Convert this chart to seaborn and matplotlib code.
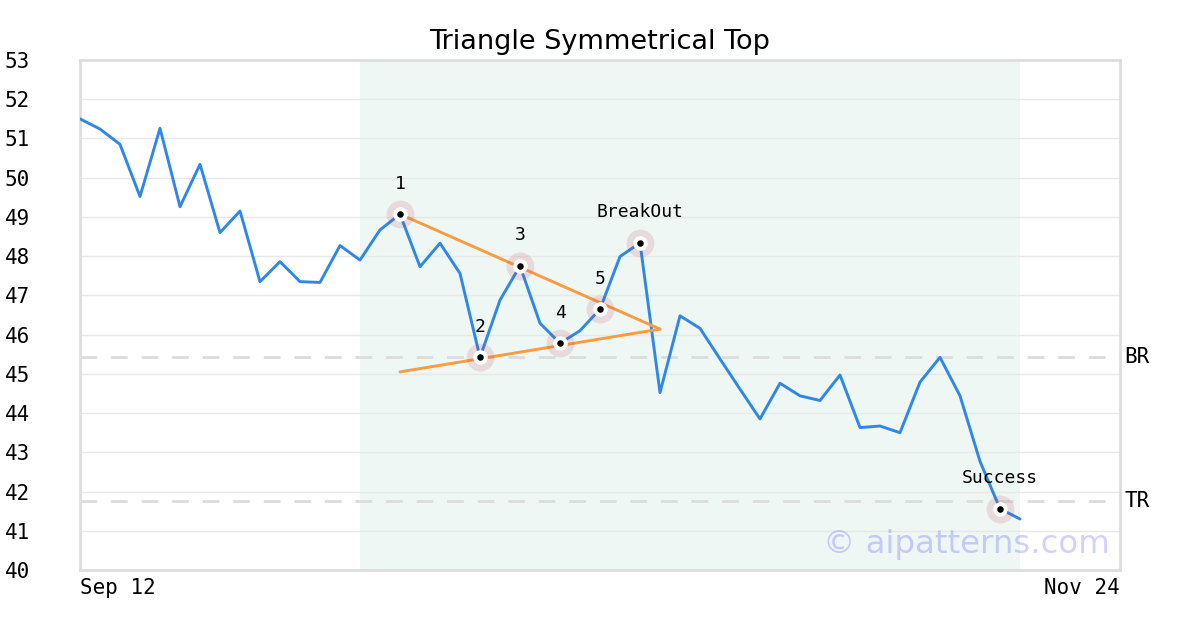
import matplotlib
matplotlib.use("Agg")
import matplotlib.pyplot as plt
import pandas as pd
import seaborn as sns

# price series, one value per trading day starting Sep 12
prices = [51.50, 51.24, 50.85, 49.52, 51.26, 49.26, 50.34, 48.60, 49.15, 47.35,
          47.86, 47.35, 47.33, 48.27, 47.90, 48.67, 49.07, 47.73, 48.33, 47.56,
          45.42, 46.88, 47.75, 46.29, 45.78, 46.10, 46.65, 47.99, 48.34, 44.52,
          46.48, 46.16, 45.38, 44.61, 43.85, 44.76, 44.44, 44.32, 44.97, 43.63,
          43.67, 43.50, 44.79, 45.42, 44.44, 42.77, 41.56, 41.30]
n_days = 52  # axis spans Sep 12 .. Nov 24
x_labels = ["Sep 12", "Nov 24"]

# pattern points (index into prices) and their labels
pivot_idx = [16, 20, 22, 24, 26, 28, 46]
pivot_lbl = ["1", "2", "3", "4", "5", "BreakOut", "Success"]

# triangle sides
upper_x = [16, 29]
upper_y = [49.07, 46.14]
lower_x = [16, 29]
lower_y = [45.05, 46.14]

br_level = 45.43
tr_level = 41.76
shade_from, shade_to = 14, 47

df = pd.DataFrame({"day": range(len(prices)), "price": prices})
piv = pd.DataFrame({"day": pivot_idx, "price": [prices[i] for i in pivot_idx], "label": pivot_lbl})

sns.set_style("white")
plt.rcParams["font.family"] = ["DejaVu Sans"]
plt.rcParams["text.color"] = "black"
plt.rcParams["xtick.color"] = "black"
plt.rcParams["ytick.color"] = "black"
mono = "DejaVu Sans Mono"

fig = plt.figure(figsize=(12, 6.3), dpi=100)
ax = fig.add_axes([80 / 1200, 60 / 630, 1040 / 1200, 510 / 630])

ax.axvspan(shade_from, shade_to, color="#eef7f3", zorder=0, lw=0)
for v in range(41, 53):
    ax.axhline(v, color="#e8e8e8", lw=1, zorder=1)
ax.axhline(br_level, color="#dcdcdc", lw=2, ls=(0, (6, 5)), zorder=1)
ax.axhline(tr_level, color="#dcdcdc", lw=2, ls=(0, (6, 5)), zorder=1)

sns.lineplot(data=df, x="day", y="price", ax=ax, color="#2f87e6", lw=2.1, zorder=3)
sns.lineplot(x=upper_x, y=upper_y, ax=ax, color="#fb9c40", lw=2.1, zorder=4)
sns.lineplot(x=lower_x, y=lower_y, ax=ax, color="#fb9c40", lw=2.1, zorder=4)

sns.scatterplot(data=piv, x="day", y="price", ax=ax, s=400, color="#c03050", alpha=0.14,
                linewidth=0, zorder=5)
sns.scatterplot(data=piv, x="day", y="price", ax=ax, s=110, color="white", linewidth=0, zorder=6)
sns.scatterplot(data=piv, x="day", y="price", ax=ax, s=22, color="black", linewidth=0, zorder=7)

for _, r in piv.iterrows():
    ax.annotate(r["label"], (r["day"], r["price"]), xytext=(0, 22), textcoords="offset points",
                ha="center", va="center", fontsize=13, family=mono, zorder=8)

ax.text(1.004, br_level, "BR", transform=ax.get_yaxis_transform(), ha="left", va="center",
        fontsize=15, family=mono)
ax.text(1.004, tr_level, "TR", transform=ax.get_yaxis_transform(), ha="left", va="center",
        fontsize=15, family=mono)

ax.text(0.99, 0.05, "\u00a9 aipatterns.com", transform=ax.transAxes, ha="right", va="center",
        fontsize=23.3, color="#0000ff", alpha=0.18, zorder=9)

ax.set_xlim(0, n_days)
ax.set_ylim(40, 53)
ax.set_yticks(range(40, 54))
ax.set_yticklabels([str(v) for v in range(40, 54)], family=mono, fontsize=15)
ax.tick_params(axis="y", length=0, pad=54)
for t in ax.get_yticklabels():
    t.set_horizontalalignment("left")
ax.set_xticks([0, n_days])
ax.set_xticklabels(x_labels, family=mono, fontsize=15)
ax.tick_params(axis="x", length=0, pad=6)
xt = ax.get_xticklabels()
xt[0].set_horizontalalignment("left")
xt[1].set_horizontalalignment("right")
ax.set_xlabel("")
ax.set_ylabel("")

for sp in ax.spines.values():
    sp.set_color("#dddddd")
    sp.set_linewidth(2)

ax.set_title("Triangle Symmetrical Top", fontsize=19.5, pad=8, color="black")

fig.savefig("out.png", dpi=100)
